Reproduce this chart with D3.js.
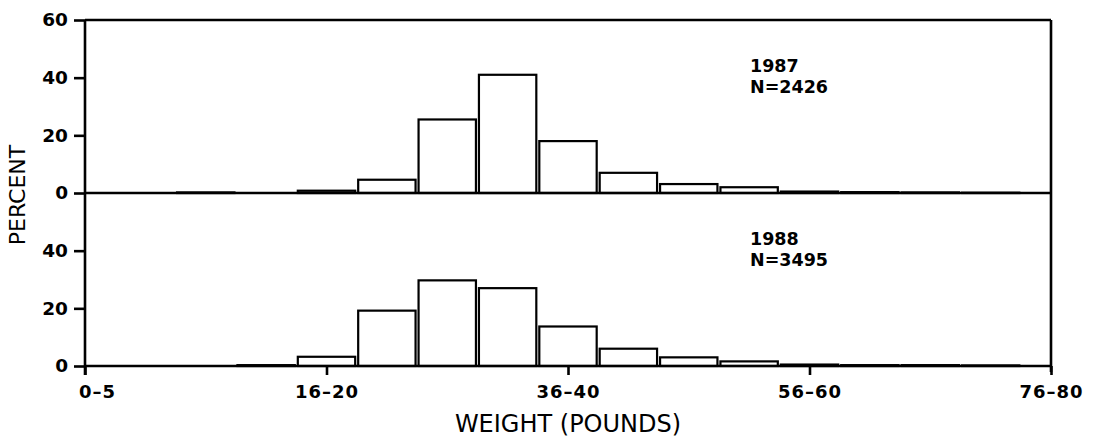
<!DOCTYPE html>
<html>
<head>
<meta charset="utf-8">
<script src="https://cdn.jsdelivr.net/npm/d3@7"></script>
<style>
  html, body { margin: 0; padding: 0; background: #fff; }
  svg { display: block; }
  .num { font-family: "DejaVu Sans", sans-serif; font-weight: bold; font-size: 18.5px; fill: #000; }
  .xlab { letter-spacing: 1px; font-size: 18px; }
  .note { font-size: 17.5px; }
  .title { font-family: "DejaVu Sans", sans-serif; font-size: 22px; fill: #000; }
</style>
</head>
<body>
<script>
// Weight classes (pounds); each bar is drawn at the upper bound of its class
const weightClasses = ["0-5","6-10","11-15","16-20","21-25","26-30","31-35","36-40",
                       "41-45","46-50","51-55","56-60","61-65","66-70","71-75"];
// Percent of fish in each weight class
const pct1987 = [0, 0.2, 0, 0.8, 4.6, 25.5, 41, 18, 7, 3.1, 2, 0.5, 0.3, 0.2, 0.1];
const pct1988 = [0, 0, 0.3, 3.2, 19.2, 29.7, 27, 13.7, 6, 3, 1.6, 0.5, 0.3, 0.3, 0.2];
// Axis ticks
const xTickValues = [0, 20, 40, 60, 80];
const xTickLabels = ["0\u20135", "16\u201320", "36\u201340", "56\u201360", "76\u201380"];
const yTicksTop = [0, 20, 40, 60];
const yTicksBottom = [0, 20, 40];
// Panel annotations
const panels = [
  { year: "1987", n: "N=2426", values: pct1987 },
  { year: "1988", n: "N=3495", values: pct1988 }
];

const W = 1093, H = 438;
const plotL = 85, plotR = 1051, plotT = 20, plotMid = 193, plotB = 366;

const svg = d3.select("body").append("svg").attr("width", W).attr("height", H);

const x = d3.scaleLinear().domain([0, 80]).range([plotL, plotR]);
const yScales = [
  d3.scaleLinear().domain([0, 60]).range([plotMid, plotT]),
  d3.scaleLinear().domain([0, 60]).range([plotB, plotMid])
];
const classUpper = c => +c.split("-")[1];
const binWidth = x(5) - x(0);

// Bars
panels.forEach((p, i) => {
  const y = yScales[i];
  svg.append("g")
    .selectAll("rect")
    .data(weightClasses.map((c, k) => ({ c, v: p.values[k] })).filter(d => d.v > 0))
    .join("rect")
    .attr("x", d => x(classUpper(d.c)) - binWidth / 2 + 1.5)
    .attr("width", binWidth - 3)
    .attr("y", d => y(d.v))
    .attr("height", d => y(0) - y(d.v))
    .attr("fill", "#fff")
    .attr("stroke", "#000")
    .attr("stroke-width", 2.2);
});

// Frame and baselines
const frame = svg.append("g").attr("stroke", "#000").attr("fill", "none").attr("stroke-width", 2.6);
frame.append("line").attr("x1", plotL).attr("x2", plotR).attr("y1", plotT).attr("y2", plotT);
frame.append("line").attr("x1", plotR).attr("x2", plotR).attr("y1", plotT).attr("y2", plotB + 6);
frame.append("line").attr("x1", plotL).attr("x2", plotL).attr("y1", plotT).attr("y2", plotB + 9);
frame.append("line").attr("x1", plotL).attr("x2", plotR).attr("y1", plotMid).attr("y2", plotMid);
frame.append("line").attr("x1", plotL).attr("x2", plotR).attr("y1", plotB).attr("y2", plotB);

// Axes
function styleAxis(g) {
  g.select(".domain").remove();
  g.selectAll(".tick line").attr("stroke", "#000").attr("stroke-width", 2.6);
  g.selectAll(".tick text").attr("class", "num").attr("fill", null);
  g.attr("font-family", null).attr("font-size", null);
}
svg.append("g").attr("transform", `translate(${plotL},0)`)
  .call(d3.axisLeft(yScales[0]).tickValues(yTicksTop).tickSize(11).tickPadding(6).tickFormat(d3.format("d")))
  .call(styleAxis);
svg.append("g").attr("transform", `translate(${plotL},0)`)
  .call(d3.axisLeft(yScales[1]).tickValues(yTicksBottom).tickSize(11).tickPadding(6).tickFormat(d3.format("d")))
  .call(styleAxis);

const xg = svg.append("g").attr("transform", `translate(0,${plotB})`)
  .call(d3.axisBottom(x).tickValues(xTickValues).tickSize(9).tickPadding(10)
    .tickFormat((d, i) => xTickLabels[i]))
  .call(styleAxis);
xg.selectAll(".tick text").attr("class", "num xlab").attr("dy", "0.71em");
xg.select(".tick text").attr("dx", 12);

// Axis titles
svg.append("text").attr("class", "title")
  .attr("x", 568).attr("y", 432)
  .attr("text-anchor", "middle")
  .style("font-size", "24px")
  .text("WEIGHT (POUNDS)");
svg.append("text").attr("class", "title")
  .attr("transform", `translate(25,${plotMid + 2}) rotate(-90)`)
  .attr("text-anchor", "middle")
  .text("PERCENT");

// Panel labels
panels.forEach((p, i) => {
  const y = yScales[i];
  const g = svg.append("g").attr("class", "num note");
  g.append("text").attr("x", 750).attr("y", y(42)).text(p.year);
  g.append("text").attr("x", 750).attr("y", y(42)).attr("dy", 21).text(p.n);
});
</script>
</body>
</html>
